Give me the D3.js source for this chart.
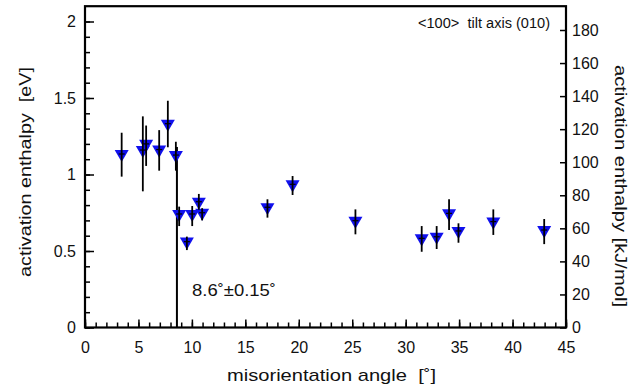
<!DOCTYPE html>
<html>
<head>
<meta charset="utf-8">
<script src="https://cdn.jsdelivr.net/npm/d3@7"></script>
<style>
  body { margin: 0; background: #fff; }
  svg text { font-family: "Liberation Sans", Arial, Helvetica, sans-serif; fill: #111; white-space: pre; }
  .axis path, .axis line { stroke: #000; }
</style>
</head>
<body>
<div id="chart"></div>
<script>
// misorientation angle [deg]
var angle    = [3.43, 5.41, 5.72, 6.94, 7.75, 8.50, 8.81, 9.53, 10.03, 10.65, 10.96, 17.07, 19.42, 25.3, 31.5, 32.9, 34.06, 34.94, 38.2, 42.96];
// activation enthalpy [eV]
var enthalpy = [1.134, 1.16, 1.20, 1.163, 1.332, 1.127, 0.742, 0.561, 0.742, 0.822, 0.75, 0.786, 0.936, 0.698, 0.583, 0.593, 0.746, 0.631, 0.692, 0.637];
var errLow   = [0.986, 0.89, 1.056, 1.025, 1.178, 1.025, 0.663, 0.506, 0.663, 0.77, 0.70, 0.718, 0.866, 0.609, 0.495, 0.513, 0.637, 0.554, 0.605, 0.545];
var errHigh  = [1.273, 1.38, 1.32, 1.29, 1.482, 1.214, 0.79, 0.594, 0.794, 0.873, 0.78, 0.838, 0.99, 0.772, 0.663, 0.663, 0.838, 0.681, 0.772, 0.709];

var xTicks = [0, 5, 10, 15, 20, 25, 30, 35, 40, 45];
var yTicks = [0, 0.5, 1, 1.5, 2];
var kjTicks = [0, 20, 40, 60, 80, 100, 120, 140, 160, 180];
var transitionAngle = 8.6, transitionTop = 1.18;
var eVMax = 2.1, kjMax = 194.4;   // right axis as printed in the figure

var width = 642, height = 392;
var plotL = 85, plotR = 566, plotT = 6.2, plotB = 327.5;

var svg = d3.select("#chart").append("svg")
    .attr("width", width)
    .attr("height", height);

var x = d3.scaleLinear().domain([0, 45]).range([plotL, plotR]);
var y = d3.scaleLinear().domain([0, eVMax]).range([plotB, plotT]);
var yk = d3.scaleLinear().domain([0, kjMax]).range([plotB, plotT]);

// minor ticks
svg.append("g").attr("class", "axis")
    .attr("transform", "translate(0," + plotB + ")")
    .call(d3.axisBottom(x).tickValues(d3.range(0, 46, 1)).tickSize(-5).tickSizeOuter(0).tickFormat(""))
    .call(function(g) { g.select(".domain").remove(); g.selectAll("line").attr("stroke-width", 1.5); });

svg.append("g").attr("class", "axis")
    .attr("transform", "translate(" + plotL + ",0)")
    .call(d3.axisLeft(y).tickValues(d3.range(0, 21, 1).map(function(d) { return d / 10; })).tickSize(-5).tickSizeOuter(0).tickFormat(""))
    .call(function(g) { g.select(".domain").remove(); g.selectAll("line").attr("stroke-width", 1.5); });

// major ticks
var xAxis = svg.append("g").attr("class", "axis")
    .attr("transform", "translate(0," + plotB + ")")
    .call(d3.axisBottom(x).tickValues(xTicks).tickSize(-8).tickSizeOuter(0));
xAxis.select(".domain").remove();
xAxis.selectAll("line").attr("stroke-width", 1.5);
xAxis.selectAll("text").attr("font-size", 16).attr("dy", 0).attr("y", 25);

var yAxis = svg.append("g").attr("class", "axis")
    .attr("transform", "translate(" + plotL + ",0)")
    .call(d3.axisLeft(y).tickValues(yTicks).tickSize(-9).tickSizeOuter(0).tickPadding(9).tickFormat(d3.format("")));
yAxis.select(".domain").remove();
yAxis.selectAll("line").attr("stroke-width", 1.5);
yAxis.selectAll("text").attr("font-size", 16);

var kAxis = svg.append("g").attr("class", "axis")
    .attr("transform", "translate(" + plotR + ",0)")
    .call(d3.axisRight(yk).tickValues(kjTicks).tickSize(-6).tickSizeOuter(0).tickPadding(6));
kAxis.select(".domain").remove();
kAxis.selectAll("line").attr("stroke-width", 1.5);
kAxis.selectAll("text").attr("font-size", 16);

// frame
svg.append("rect")
    .attr("x", plotL).attr("y", plotT)
    .attr("width", plotR - plotL).attr("height", plotB - plotT)
    .attr("fill", "none").attr("stroke", "#000").attr("stroke-width", 2.2);

// transition marker line
svg.append("line")
    .attr("x1", x(transitionAngle)).attr("x2", x(transitionAngle))
    .attr("y1", y(transitionTop)).attr("y2", y(0))
    .attr("stroke", "#000").attr("stroke-width", 2);

var pts = angle.map(function(a, i) {
    return { a: a, e: enthalpy[i], lo: errLow[i], hi: errHigh[i] };
});

svg.append("g").selectAll("path")
    .data(pts)
    .enter().append("path")
    .attr("d", d3.symbol().type(d3.symbolTriangle).size(85))
    .attr("transform", function(d) { return "translate(" + x(d.a) + "," + y(d.e) + ") rotate(180)"; })
    .attr("fill", "#1010ee");

svg.append("g").selectAll("line")
    .data(pts)
    .enter().append("line")
    .attr("x1", function(d) { return x(d.a); })
    .attr("x2", function(d) { return x(d.a); })
    .attr("y1", function(d) { return y(d.hi); })
    .attr("y2", function(d) { return y(d.lo); })
    .attr("stroke", "#000").attr("stroke-width", 1.8);

svg.append("g").selectAll("line")
    .data(pts)
    .enter().append("line")
    .attr("x1", function(d) { return x(d.a) - 3; })
    .attr("x2", function(d) { return x(d.a) + 3; })
    .attr("y1", function(d) { return y(d.e); })
    .attr("y2", function(d) { return y(d.e); })
    .attr("stroke", "#000").attr("stroke-width", 1.2);

// labels
svg.append("text")
    .attr("x", 227).attr("y", 381)
    .attr("font-size", 17)
    .attr("textLength", 209).attr("lengthAdjust", "spacingAndGlyphs")
    .text("misorientation angle  [\u02DA]");

svg.append("text")
    .attr("transform", "translate(31,172) rotate(-90)")
    .attr("text-anchor", "middle")
    .attr("font-size", 17)
    .attr("textLength", 210).attr("lengthAdjust", "spacingAndGlyphs")
    .text("activation enthalpy  [eV]");

svg.append("text")
    .attr("transform", "translate(615,186) rotate(90)")
    .attr("text-anchor", "middle")
    .attr("font-size", 17)
    .attr("textLength", 242).attr("lengthAdjust", "spacingAndGlyphs")
    .text("activation enthalpy [kJ/mol]");

svg.append("text")
    .attr("x", 550).attr("y", 28)
    .attr("text-anchor", "end")
    .attr("font-size", 14)
    .attr("textLength", 132).attr("lengthAdjust", "spacingAndGlyphs")
    .text("<100>  tilt axis (010)");

svg.append("text")
    .attr("x", 192).attr("y", 296)
    .attr("font-size", 16)
    .attr("textLength", 84).attr("lengthAdjust", "spacingAndGlyphs")
    .text("8.6\u02DA\u00B10.15\u02DA");
</script>
</body>
</html>
